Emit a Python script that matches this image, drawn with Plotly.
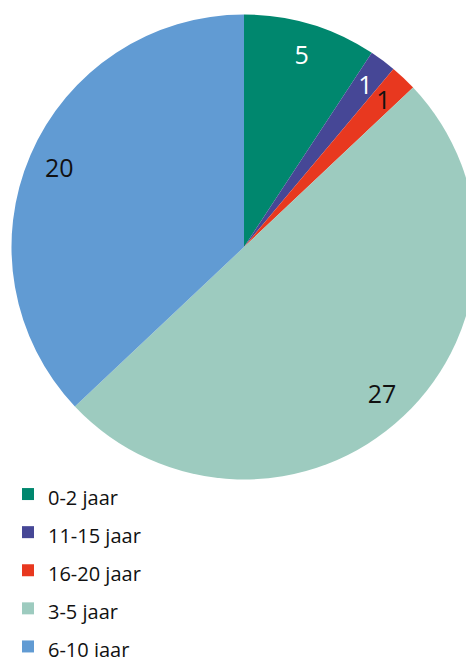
import plotly.graph_objects as go

labels = ["0-2 jaar", "11-15 jaar", "16-20 jaar", "3-5 jaar", "6-10 jaar"]
values = [5, 1, 1, 27, 20]
colors = ["#00876E", "#464796", "#E8381F", "#9DCBBF", "#619BD3"]
text_colors = ["#FFFFFF", "#FFFFFF", "#111111", "#111111", "#111111"]

W, H = 474, 657
FONT = "Open Sans"
# legend entries shown in a smaller span so the row pitch follows the larger legend font
legend_labels = ['<span style="font-size:20px">%s</span>' % l for l in labels]

CX, CY, R = 236, 239, 232.5  # pie centre / radius in figure pixels


def domain(r):
    return dict(x=[(CX - r) / W, (CX + r) / W], y=[(H - CY - r) / H, (H - CY + r) / H])


total = sum(values)
big = ["%{value}" if v / total > 0.05 else "" for v in values]
small = ["" if v / total > 0.05 else "%{value}" for v in values]

fig = go.Figure()
fig.add_trace(go.Pie(
    labels=legend_labels, values=values, sort=False, direction="clockwise", rotation=0,
    marker=dict(colors=colors, line=dict(width=0)),
    textinfo="none", domain=domain(R),
    customdata=labels, hovertemplate="%{customdata}: %{value}<extra></extra>",
))
# transparent overlays that only carry the value labels
for hole, tmpl, rr in ((0.73, big, R), (0.0, small, 215)):
    fig.add_trace(go.Pie(
        labels=legend_labels, values=values, sort=False, direction="clockwise", rotation=0,
        hole=hole, showlegend=False,
        marker=dict(colors=["rgba(0,0,0,0)"] * len(values), line=dict(width=0)),
        texttemplate=tmpl, textposition="inside", insidetextorientation="horizontal",
        textfont=dict(family=FONT, size=25, color=text_colors),
        domain=domain(rr), hoverinfo="skip",
    ))
fig.update_layout(
    width=W, height=H, margin=dict(l=0, r=0, t=0, b=0, autoexpand=False),
    paper_bgcolor="white", plot_bgcolor="white",
    font=dict(family=FONT, color="#111111"),
    uniformtext=dict(minsize=25, mode="show"),
    legend=dict(
        x=0.0, y=1 - 462 / H, xanchor="left", yanchor="top",
        font=dict(family=FONT, size=27, color="#111111"),
        bgcolor="rgba(0,0,0,0)", traceorder="normal",
    ),
)
fig.write_html("out.html")
